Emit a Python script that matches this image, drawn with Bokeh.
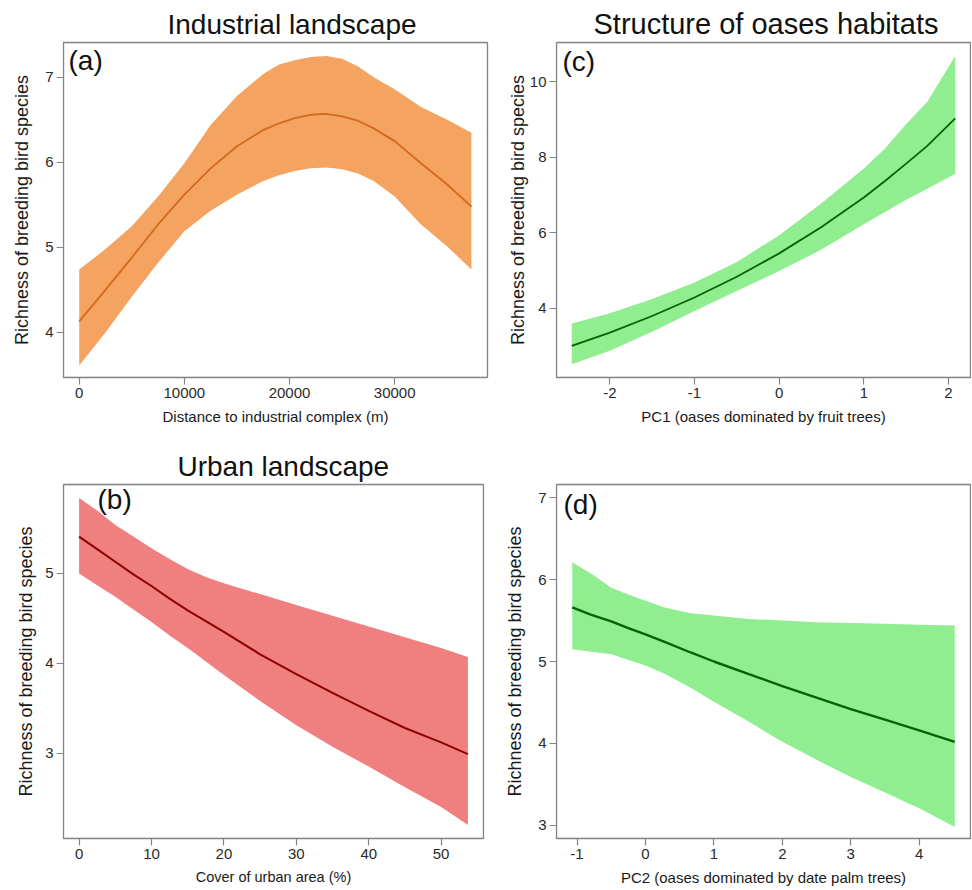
from bokeh.plotting import figure
from bokeh.layouts import column, row
from bokeh.models import Range1d, FixedTicker, Label, BoxAnnotation
from bokeh.embed import file_html
from bokeh.resources import INLINE

# ---------------- data ----------------
# (a) Industrial landscape
a_x = [0, 2500, 5000, 7500, 10000, 12500, 15000, 17500, 19000, 20500, 22000, 23500,
       25000, 26500, 28000, 30000, 32500, 35000, 37300]
a_mean = [4.13, 4.50, 4.88, 5.27, 5.62, 5.93, 6.19, 6.38, 6.46, 6.52, 6.56, 6.57,
          6.54, 6.49, 6.40, 6.25, 5.99, 5.74, 5.48]
a_low = [3.61, 4.00, 4.42, 4.82, 5.19, 5.43, 5.62, 5.78, 5.85, 5.90, 5.93, 5.94,
         5.92, 5.87, 5.78, 5.60, 5.27, 5.01, 4.74]
a_up = [4.74, 4.98, 5.25, 5.60, 5.99, 6.44, 6.78, 7.04, 7.15, 7.20, 7.24, 7.25,
        7.22, 7.13, 7.00, 6.86, 6.65, 6.50, 6.35]
a_xticks = [0, 10000, 20000, 30000]
a_yticks = [4, 5, 6, 7]

# (b) Urban landscape
b_x = [0, 2.5, 5, 7.5, 10, 12.5, 15, 17.5, 20, 25, 30, 35, 40, 45, 50, 53.7]
b_mean = [5.41, 5.27, 5.13, 4.99, 4.86, 4.72, 4.59, 4.47, 4.35, 4.10, 3.88, 3.67, 3.47, 3.28, 3.12, 2.99]
b_low = [5.00, 4.87, 4.74, 4.60, 4.46, 4.31, 4.17, 4.02, 3.87, 3.58, 3.31, 3.07, 2.85, 2.62, 2.40, 2.20]
b_up = [5.84, 5.70, 5.54, 5.41, 5.28, 5.16, 5.05, 4.96, 4.89, 4.77, 4.65, 4.53, 4.41, 4.29, 4.17, 4.07]
b_xticks = [0, 10, 20, 30, 40, 50]
b_yticks = [3, 4, 5]

# (c) PC1
c_x = [-2.45, -2.0, -1.5, -1.0, -0.5, 0.0, 0.5, 1.0, 1.25, 1.5, 1.75, 2.08]
c_mean = [3.00, 3.35, 3.79, 4.28, 4.83, 5.45, 6.15, 6.93, 7.37, 7.83, 8.30, 9.03]
c_low = [2.51, 2.87, 3.37, 3.92, 4.45, 4.98, 5.55, 6.22, 6.55, 6.87, 7.16, 7.56]
c_up = [3.59, 3.86, 4.24, 4.68, 5.22, 5.93, 6.78, 7.70, 8.23, 8.88, 9.47, 10.68]
c_xticks = [-2, -1, 0, 1, 2]
c_yticks = [4, 6, 8, 10]

# (d) PC2
d_x = [-1.07, -0.79, -0.5, -0.26, 0.0, 0.28, 0.66, 1.0, 1.5, 2.0, 2.5, 3.0, 3.5, 4.0, 4.52]
d_mean = [5.66, 5.57, 5.49, 5.41, 5.33, 5.24, 5.11, 5.00, 4.85, 4.70, 4.56, 4.42, 4.29, 4.16, 4.02]
d_low = [5.15, 5.12, 5.09, 5.02, 4.95, 4.85, 4.68, 4.51, 4.27, 4.02, 3.80, 3.59, 3.40, 3.21, 2.98]
d_up = [6.21, 6.07, 5.90, 5.82, 5.74, 5.66, 5.59, 5.56, 5.52, 5.50, 5.48, 5.47, 5.46, 5.45, 5.44]
d_xticks = [-1, 0, 1, 2, 3, 4]
d_yticks = [3, 4, 5, 6, 7]

YLAB = "Richness of breeding bird species"
FONT = "Liberation Sans"
FRAME = "#858585"


def panel(x, mean, low, up, xr, yr, xticks, yticks, fill, line, lw, xlabel,
          tag, tag_dx, tag_dy, title, title_off, title_size,
          w, h, bl, br, bt, bb, ylab_standoff, xlab_size="15px"):
    p = figure(width=w, height=h, x_range=Range1d(*xr), y_range=Range1d(*yr),
               output_backend="svg", toolbar_location=None,
               min_border_left=bl, min_border_right=br,
               min_border_top=bt, min_border_bottom=bb)
    p.background_fill_color = "white"
    p.border_fill_color = "white"
    p.outline_line_color = FRAME
    p.outline_line_width = 1.3
    p.xgrid.visible = False
    p.ygrid.visible = False

    p.varea(x=x, y1=low, y2=up, fill_color=fill, fill_alpha=1.0)
    p.line(x=x, y=mean, line_color=line, line_width=lw)
    p.add_layout(BoxAnnotation(fill_color=None, fill_alpha=0, line_color=FRAME,
                               line_width=1.3, level="overlay"))

    for ax, ticks in ((p.xaxis[0], xticks), (p.yaxis[0], yticks)):
        ax.ticker = FixedTicker(ticks=ticks)
        ax.major_label_overrides = {t: str(t) for t in ticks}
        ax.minor_tick_line_color = None
        ax.major_tick_in = 0
        ax.major_tick_out = 7
        ax.major_tick_line_color = FRAME
        ax.major_tick_line_width = 1.2
        ax.axis_line_color = None
        ax.major_label_text_font = FONT
        ax.major_label_text_font_size = "15px"
        ax.major_label_text_color = "#2a2a2a"
        ax.axis_label_text_font = FONT
        ax.axis_label_text_font_style = "normal"
        ax.axis_label_text_color = "#1a1a1a"
    p.xaxis[0].major_label_standoff = 3
    p.yaxis[0].major_label_standoff = 3
    p.yaxis[0].major_label_orientation = "horizontal"
    p.xaxis[0].axis_label = xlabel
    p.xaxis[0].axis_label_text_font_size = xlab_size
    p.xaxis[0].axis_label_standoff = 7
    p.yaxis[0].axis_label = YLAB
    p.yaxis[0].axis_label_text_font_size = "18px"
    p.yaxis[0].axis_label_standoff = ylab_standoff

    if title:
        p.title.text = title
        p.title.text_font = FONT
        p.title.text_font_size = title_size
        p.title.text_font_style = "normal"
        p.title.text_color = "#111111"
        p.title.align = "left"
        p.title.offset = title_off
        p.title.standoff = 6

    fw = w - bl - br
    fh = h - bt - bb
    lx = xr[0] + tag_dx / fw * (xr[1] - xr[0])
    ly = yr[1] - tag_dy / fh * (yr[1] - yr[0])
    p.add_layout(Label(x=lx, y=ly, text=tag, text_font=FONT, text_font_size="28px",
                       text_align="left", text_baseline="middle", text_color="#111111"))
    return p


pa = panel(a_x, a_mean, a_low, a_up, (-1493, 38827), (3.47, 7.41), a_xticks, a_yticks,
           "#F4A460", "#D2691E", 1.8, "Distance to industrial complex (m)",
           "(a)", 5, 18, "Industrial landscape", 104, "28px",
           490, 440, 63, 3, 42, 63, 10)
pc = panel(c_x, c_mean, c_low, c_up, (-2.63, 2.26), (2.16, 11.04), c_xticks, c_yticks,
           "#90EE90", "#006400", 1.8, "PC1 (oases dominated by fruit trees)",
           "(c)", 6, 19, "Structure of oases habitats", 37, "29px",
           481, 440, 66, 1, 42, 63, -1)
pb = panel(b_x, b_mean, b_low, b_up, (-2.15, 55.85), (2.05, 5.99), b_xticks, b_yticks,
           "#F08080", "#8B0000", 2.0, "Cover of urban area (%)",
           "(b)", 34, 15, "Urban landscape", 114, "28px",
           490, 449, 63, 7, 42, 51, 6, xlab_size="14.5px")
pd = panel(d_x, d_mean, d_low, d_up, (-1.30, 4.75), (2.84, 7.16), d_xticks, d_yticks,
           "#90EE90", "#006400", 2.4, "PC2 (oases dominated by date palm trees)",
           "(d)", 7, 20, None, 0, "28px",
           481, 449, 66, 1, 44, 49, 10)

layout = column(row(pa, pc), row(pb, pd))
open("out.html", "w").write(file_html(layout, INLINE))
